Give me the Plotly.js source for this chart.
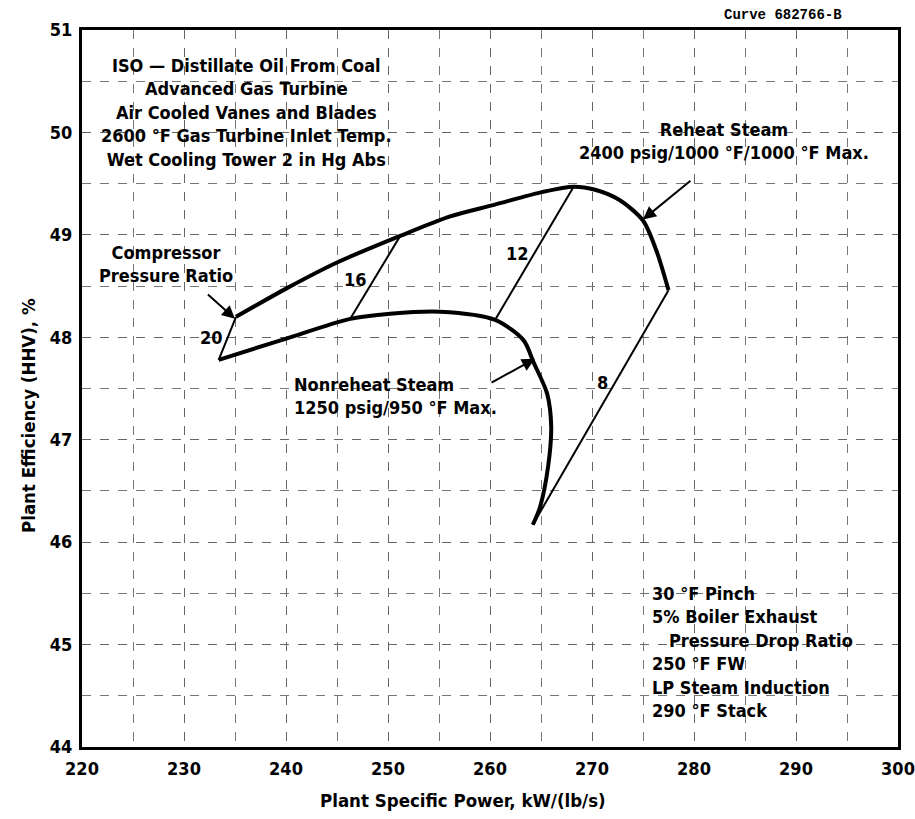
<!DOCTYPE html>
<html>
<head>
<meta charset="utf-8">
<script src="https://cdn.plot.ly/plotly-3.0.1.min.js"></script>
<style>html,body{margin:0;padding:0;background:#fff;}#chart{width:915px;height:819px;}</style>
</head>
<body>
<div id="chart"></div>
<script>
// ---- data ----
const reheatX = [235.1, 240.1, 245.0, 251.2, 256.1, 260.3, 265.2, 268.2, 270.3, 272.7, 275.0, 276.3, 277.5];
const reheatY = [48.20, 48.48, 48.73, 48.99, 49.18, 49.29, 49.42, 49.47, 49.44, 49.34, 49.14, 48.85, 48.46];
const nonreheatX = [233.4, 240.1, 246.3, 250.2, 255.1, 260.5, 263.3, 264.25, 265.6, 266.0, 265.7, 264.9, 264.2];
const nonreheatY = [47.78, 47.99, 48.18, 48.23, 48.25, 48.17, 47.97, 47.76, 47.45, 47.13, 46.74, 46.34, 46.17];
const ratioLabels = ['20', '16', '12', '8'];
const ratioReheatX = [235.1, 251.2, 268.2, 277.5];
const ratioReheatY = [48.20, 48.99, 49.47, 48.46];
const ratioNonreheatX = [233.4, 246.3, 260.5, 264.2];
const ratioNonreheatY = [47.78, 48.18, 48.17, 46.17];
const ratioLabelX = [232.7, 246.8, 262.7, 271.0];
const ratioLabelY = [48.00, 48.56, 48.82, 47.56];
const xTicks = [220, 230, 240, 250, 260, 270, 280, 290, 300];
const yTicks = [44, 45, 46, 47, 48, 49, 50, 51];
// arrows: [tipX, tipY, tailX, tailY]
const arrowCompressor = [235.0, 48.18, 232.2, 48.43];
const arrowReheat = [275.0, 49.15, 279.8, 49.54];
const arrowNonreheat = [264.4, 47.79, 260.0, 47.55];

const FONT = '"Liberation Sans Narrow", "DejaVu Sans Condensed", Arial, sans-serif';
const traces = [];
traces.push({x: reheatX, y: reheatY, mode: 'lines', line: {color: '#000', width: 4, shape: 'spline', smoothing: 0.8}, hoverinfo: 'skip', showlegend: false});
traces.push({x: nonreheatX, y: nonreheatY, mode: 'lines', line: {color: '#000', width: 4, shape: 'spline', smoothing: 0.8}, hoverinfo: 'skip', showlegend: false});
for (let i = 0; i < ratioLabels.length; i++) {
  traces.push({x: [ratioReheatX[i], ratioNonreheatX[i]], y: [ratioReheatY[i], ratioNonreheatY[i]], mode: 'lines', line: {color: '#000', width: 2}, hoverinfo: 'skip', showlegend: false});
}

const txt = (x, y, text, size, opts) => Object.assign({x: x, y: y, xref: 'x', yref: 'y', xanchor: 'center', yanchor: 'middle', text: text, showarrow: false, font: {family: FONT, size: size, color: '#000', weight: 'bold'}}, opts || {});
const arrow = (a) => ({x: a[0], y: a[1], ax: a[2], ay: a[3], xref: 'x', yref: 'y', axref: 'x', ayref: 'y', text: '', showarrow: true, arrowhead: 2, arrowsize: 1.3, arrowwidth: 2, arrowcolor: '#000'});

const W = 915, H = 819, L = 82, R = 17, T = 30, B = 72;
const pw = W - L - R, ph = H - T - B;
const px = (x) => (x - L) / pw, py = (y) => 1 - (y - T) / ph;

const annotations = [
  txt(236.1, 50.19, 'ISO — Distillate Oil From Coal<br>Advanced Gas Turbine<br>Air Cooled Vanes and Blades<br>2600 °F Gas Turbine Inlet Temp.<br>Wet Cooling Tower 2 in Hg Abs', 18, {align: 'center'}),
  txt(228.2, 48.72, 'Compressor<br>Pressure Ratio', 18, {align: 'center'}),
  txt(282.9, 49.92, 'Reheat Steam<br>2400 psig/1000 °F/1000 °F Max.', 18, {align: 'center'}),
  txt(240.6, 47.43, 'Nonreheat Steam<br>1250 psig/950 °F Max.', 18, {align: 'left', xanchor: 'left'}),
  txt(275.7, 44.93, '30 °F Pinch<br>5% Boiler Exhaust<br>\u00a0\u00a0\u00a0Pressure Drop Ratio<br>250 °F FW<br>LP Steam Induction<br>290 °F Stack', 18, {align: 'left', xanchor: 'left'}),
  arrow(arrowCompressor), arrow(arrowReheat), arrow(arrowNonreheat),
  {x: px(463), y: py(800), xref: 'paper', yref: 'paper', xanchor: 'center', yanchor: 'middle', text: 'Plant Specific Power, kW/(lb/s)', showarrow: false, font: {family: FONT, size: 18.5, color: '#000', weight: 'bold'}},
  {x: px(28), y: py(416), xref: 'paper', yref: 'paper', xanchor: 'center', yanchor: 'middle', text: 'Plant Efficiency (HHV), %', showarrow: false, textangle: -90, font: {family: FONT, size: 18.5, color: '#000', weight: 'bold'}},
  {x: px(783), y: py(15), xref: 'paper', yref: 'paper', xanchor: 'center', yanchor: 'middle', text: 'Curve 682766-B', showarrow: false, font: {family: '"Liberation Mono", "DejaVu Sans Mono", monospace', size: 14, color: '#000', weight: 'bold'}}
];
for (let i = 0; i < ratioLabels.length; i++) {
  annotations.push(txt(ratioLabelX[i], ratioLabelY[i], ratioLabels[i], 18));
}

const gridStyle = {gridcolor: '#666', gridwidth: 1, griddash: 'dash'};
const layout = {
  width: W, height: H,
  margin: {l: L, r: R, t: T, b: B, pad: 0},
  paper_bgcolor: '#fff', plot_bgcolor: '#fff',
  showlegend: false,
  font: {family: FONT, color: '#000'},
  xaxis: Object.assign({
    range: [220, 300], tickvals: xTicks, ticktext: xTicks.map(String),
    showline: true, mirror: true, linewidth: 3, linecolor: '#000', zeroline: false,
    ticks: '', ticklabelstandoff: 3, ticklabeloverflow: 'allow',
    tickfont: {family: FONT, size: 18, color: '#000', weight: 'bold'},
    showgrid: true,
    minor: {dtick: 5, tick0: 220, showgrid: true, gridcolor: '#777', gridwidth: 1, griddash: 'dash'}
  }, gridStyle),
  yaxis: Object.assign({
    range: [44, 51], tickvals: yTicks, ticktext: yTicks.map(String),
    showline: true, mirror: true, linewidth: 3, linecolor: '#000', zeroline: false,
    ticks: '', ticklabelstandoff: 3, ticklabeloverflow: 'allow',
    tickfont: {family: FONT, size: 18, color: '#000', weight: 'bold'},
    showgrid: true,
    minor: {dtick: 0.5, tick0: 44, showgrid: true, gridcolor: '#777', gridwidth: 1, griddash: 'dash'}
  }, gridStyle),
  annotations: annotations
};
Plotly.newPlot('chart', traces, layout, {displayModeBar: false, staticPlot: true});
</script>
</body>
</html>
